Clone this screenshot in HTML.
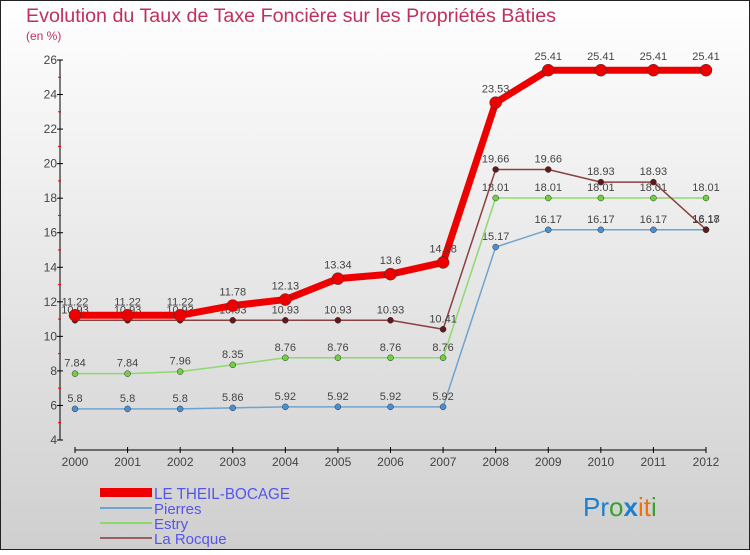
<!DOCTYPE html>
<html><head><meta charset="utf-8"><style>
body{margin:0}
#c{width:750px;height:550px;position:relative;font-family:"Liberation Sans",sans-serif}
</style></head><body>
<div id="c">
<svg id="s" width="750" height="550" xmlns="http://www.w3.org/2000/svg" font-family="Liberation Sans, sans-serif">
<defs><linearGradient id="bg" x1="0" y1="0" x2="0" y2="1"><stop offset="0" stop-color="#ffffff"/><stop offset="1" stop-color="#cfcfcf"/></linearGradient></defs>
<rect x="0.5" y="0.5" width="749" height="549" fill="url(#bg)" stroke="#222"/>
<text x="26" y="22" font-size="19" fill="#c0305a" textLength="530" lengthAdjust="spacingAndGlyphs">Evolution du Taux de Taxe Foncière sur les Propriétés Bâties</text>
<text x="26" y="40" font-size="12" fill="#c0305a">(en %)</text>
<g id="axes"></g><g id="series"></g>
<g>
<rect x="100" y="488" width="52" height="9" fill="#e00"/>
<text x="154" y="499" font-size="16" fill="#5555ee" textLength="136" lengthAdjust="spacingAndGlyphs">LE THEIL-BOCAGE</text>
<line x1="100" y1="508" x2="152" y2="508" stroke="#6fa3cf" stroke-width="2"/>
<text x="154" y="514" font-size="15" fill="#5555ee">Pierres</text>
<line x1="100" y1="523" x2="152" y2="523" stroke="#8fd870" stroke-width="2"/>
<text x="154" y="529" font-size="15" fill="#5555ee">Estry</text>
<line x1="100" y1="538" x2="152" y2="538" stroke="#9a6060" stroke-width="2"/>
<text x="154" y="544" font-size="15" fill="#5555ee">La Rocque</text>
</g>
<text x="583" y="516" font-size="26"><tspan fill="#1a7fd0">Pr</tspan><tspan fill="#3aa030">o</tspan><tspan fill="#1a7fd0" font-weight="bold">x</tspan><tspan fill="#f07010">it</tspan><tspan fill="#3aa030">i</tspan></text>
</svg></div>
<script>
const years=[2000,2001,2002,2003,2004,2005,2006,2007,2008,2009,2010,2011,2012];
const theil=[11.22,11.22,11.22,11.78,12.13,13.34,13.6,14.28,23.53,25.41,25.41,25.41,25.41];
const pierres=[5.8,5.8,5.8,5.86,5.92,5.92,5.92,5.92,15.17,16.17,16.17,16.17,16.17];
const estry=[7.84,7.84,7.96,8.35,8.76,8.76,8.76,8.76,18.01,18.01,18.01,18.01,18.01];
const rocque=[10.93,10.93,10.93,10.93,10.93,10.93,10.93,10.41,19.66,19.66,18.93,18.93,16.18];
const yTicks=[4,6,8,10,12,14,16,18,20,22,24,26];
const NS="http://www.w3.org/2000/svg";
const X=i=>75+i*(706-75)/(years.length-1);
const Y=v=>440-(v-4)*(380/22);
function mk(t,a,p){const e=document.createElementNS(NS,t);for(const k in a)e.setAttribute(k,a[k]);p.appendChild(e);return e;}
const ax=document.getElementById('axes');
let e=mk('line',{x1:60,y1:60,x2:60,y2:440,stroke:'#000'},ax);

e=mk('line',{x1:75,y1:450,x2:706,y2:450,stroke:'#000'},ax);

yTicks.forEach(v=>{
 mk('line',{x1:57,y1:Y(v),x2:63,y2:Y(v),stroke:'#000'},ax);
 if(v<26){mk('line',{x1:58,y1:Y(v+1),x2:61,y2:Y(v+1),stroke:'#e00'},ax);}
 const t=mk('text',{x:57,y:Y(v)+4,'font-size':12,fill:'#444','text-anchor':'end'},ax);t.textContent=v;
 
});
years.forEach((y,i)=>{
 mk('line',{x1:X(i),y1:447,x2:X(i),y2:453,stroke:'#000'},ax);
 const t=mk('text',{x:X(i),y:466,'font-size':12,fill:'#444','text-anchor':'middle'},ax);t.textContent=y;
 
});
const sg=document.getElementById('series');
function draw(vals,name,col,w,dotCol,r,dy){
 const g=mk('g',{},sg);
 const l=mk('polyline',{points:vals.map((v,i)=>X(i)+','+Y(v)).join(' '),fill:'none',stroke:col,'stroke-width':w,'stroke-linejoin':'round'},g);
 
 vals.forEach((v,i)=>{
  const c=mk('circle',{cx:X(i),cy:Y(v),r:r,fill:dotCol,stroke:'#333','stroke-width':0.5},g);
  
  const t=mk('text',{x:X(i),y:Y(v)+dy,'font-size':11,fill:'#444','text-anchor':'middle'},g);t.textContent=v;
  
 });
}
draw(pierres,'pierres','#6fa3cf',1.5,'#4a90d0',3,-7);
draw(estry,'estry','#8fd870',1.5,'#70d040',3,-7);
draw(rocque,'la-rocque','#8a4040',1.5,'#601818',3,-7);
draw(theil,'le-theil-bocage','#ee0000',7,'#ee0000',6,-10);
</script>
</body></html>
